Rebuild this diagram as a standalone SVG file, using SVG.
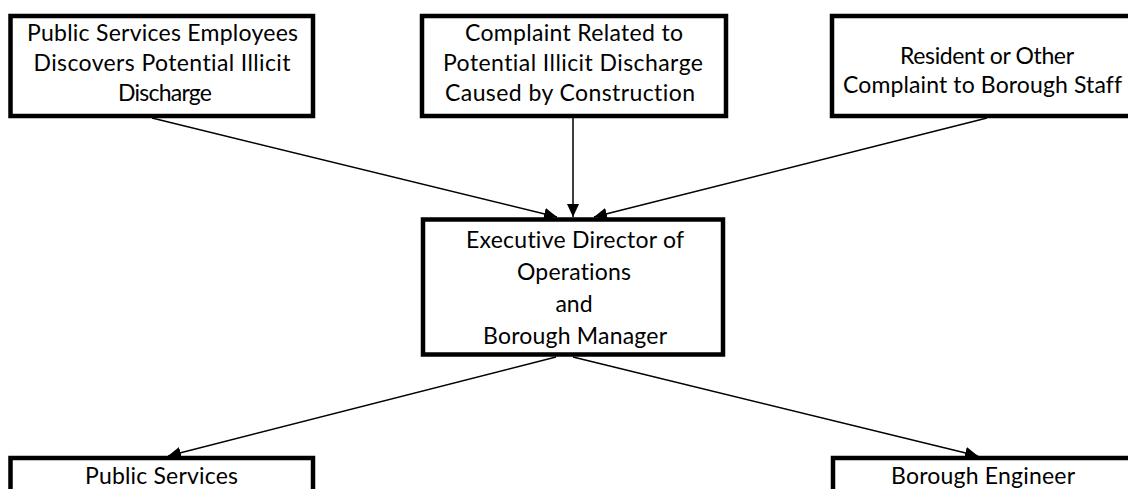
<svg xmlns="http://www.w3.org/2000/svg" width="1128" height="489" viewBox="0 0 1128 489">
<style>
.box{fill:#fff;stroke:#000;stroke-width:4.5}
.t{font-family:"Lato","Noto Sans",sans-serif;font-size:23px;fill:#000;text-anchor:middle;font-variant-ligatures:none}
.c{stroke:#000;stroke-width:1.5;fill:none;marker-end:url(#ah)}
</style>
<defs>
<marker id="ah" markerUnits="userSpaceOnUse" markerWidth="14" markerHeight="12" refX="13" refY="6" orient="auto">
<path d="M0,0 L13,6 L0,12 Z" fill="#000"/>
</marker>
</defs>
<rect width="1128" height="489" fill="#fff"/>
<g id="connectors">
<line class="c" x1="152" y1="118" x2="557" y2="217"/>
<line class="c" x1="573" y1="118" x2="573" y2="217"/>
<line class="c" x1="987" y1="118" x2="594" y2="217"/>
<line class="c" x1="556" y1="357" x2="168" y2="456"/>
<line class="c" x1="573" y1="357" x2="978" y2="456"/>
</g>
<g id="n1">
<rect class="box" x="10.5" y="16" width="302.5" height="100"/>
<text class="t" x="162.5" y="41" textLength="271">Public Services Employees</text>
<text class="t" x="162" y="70.5" textLength="257">Discovers Potential Illicit</text>
<text class="t" x="165" y="100.5" textLength="94">Discharge</text>
</g>
<g id="n2">
<rect class="box" x="422" y="16" width="304" height="100"/>
<text class="t" x="574" y="41" textLength="218">Complaint Related to</text>
<text class="t" x="573" y="70.5" textLength="260">Potential Illicit Discharge</text>
<text class="t" x="570" y="100.5" textLength="250">Caused by Construction</text>
</g>
<g id="n3">
<rect class="box" x="832" y="16" width="305" height="100"/>
<text class="t" x="987" y="63.5" textLength="174">Resident or Other</text>
<text class="t" x="982.5" y="93" textLength="279">Complaint to Borough Staff</text>
</g>
<g id="n4">
<rect class="box" x="423" y="219.5" width="300" height="135"/>
<text class="t" x="575" y="247.5" textLength="218">Executive Director of</text>
<text class="t" x="574" y="280" textLength="114">Operations</text>
<text class="t" x="574" y="312">and</text>
<text class="t" x="575" y="343.5" textLength="184">Borough Manager</text>
</g>
<g id="n5">
<rect class="box" x="10.5" y="458" width="302.5" height="60"/>
<text class="t" x="161.5" y="483.5" textLength="153">Public Services</text>
</g>
<g id="n6">
<rect class="box" x="833" y="458" width="305" height="60"/>
<text class="t" x="983" y="483.5" textLength="184">Borough Engineer</text>
</g>
</svg>
